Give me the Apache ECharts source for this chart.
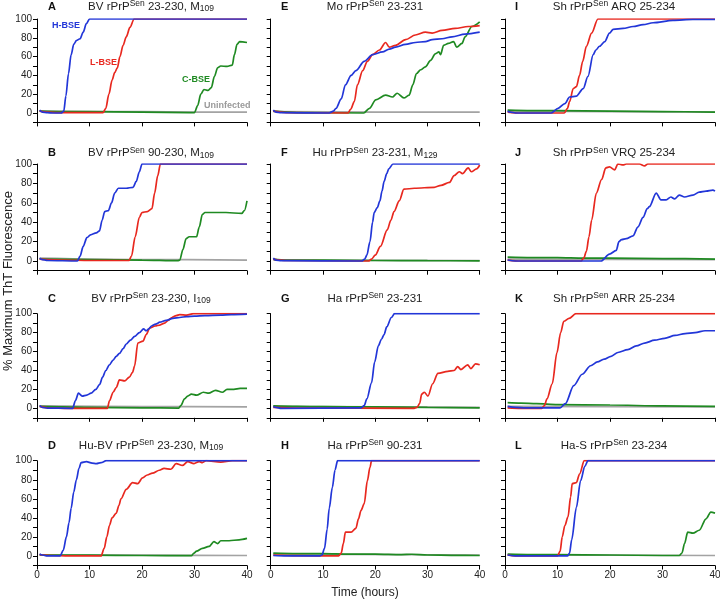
<!DOCTYPE html>
<html><head><meta charset="utf-8">
<script src="https://cdn.jsdelivr.net/npm/echarts@6/dist/echarts.min.js"></script>
<style>html,body{margin:0;padding:0;background:#fff}#c{width:720px;height:600px}</style>
</head><body><div id="c"></div>
<script>
// ---- tick values ----
const xTicks = [0, 10, 20, 30, 40];
const yTickLabels = [0, 20, 40, 60, 80, 100];
const seriesNames = ['Uninfected', 'C-BSE', 'L-BSE', 'H-BSE'];
const panelLetters = ['A','B','C','D','E','F','G','H','I','J','K','L'];
const panelTitles = [
  'BV rPrP{sup|Sen} 23-230, M{sub|109}',
  'BV rPrP{sup|Sen} 90-230, M{sub|109}',
  'BV rPrP{sup|Sen} 23-230, I{sub|109}',
  'Hu-BV rPrP{sup|Sen} 23-230, M{sub|109}',
  'Mo rPrP{sup|Sen} 23-231',
  'Hu rPrP{sup|Sen} 23-231, M{sub|129}',
  'Ha rPrP{sup|Sen} 23-231',
  'Ha rPrP{sup|Sen} 90-231',
  'Sh rPrP{sup|Sen} ARQ 25-234',
  'Sh rPrP{sup|Sen} VRQ 25-234',
  'Sh rPrP{sup|Sen} ARR 25-234',
  'Ha-S rPrP{sup|Sen} 23-234'
];

// ---- data: [hours, % max ThT] ----
const A_blue = [[0.5,3],[1,1],[2,0.3],[3,0],[4.6,0],[5.1,2],[5.5,18],[6,42],[6.5,62],[7,73],[7.5,77],[8.2,79],[8.8,86],[9.4,95],[10,100],[40,100]];
const A_red = [[0.5,2],[2,1],[4,0.5],[8,0.5],[12.6,0.5],[13.1,5],[13.7,20],[14.3,35],[14.8,43],[15.3,48],[15.8,60],[16.4,72],[17,81],[17.7,91],[18.5,100],[40,100]];
const A_green = [[0.5,2],[5,1.5],[10,1.5],[20,1],[29,0.5],[30,0.5],[30.6,8],[31.2,20],[31.8,25],[32.6,24],[33.2,27],[33.8,39],[34.4,48],[35,50],[36.2,49.5],[37.2,51],[37.6,62],[38.1,73],[38.6,76],[40,75]];
const A_gray = [[0.5,2],[10,1.5],[20,1.5],[30,1],[40,1]];

const B_blue = [[0.5,3],[1,1.5],[2,0.5],[7.7,0],[8.2,5],[8.8,15],[9.5,24],[10.2,27],[11.3,29],[11.9,31],[12.4,42],[12.9,51],[13.6,52],[14.2,60],[14.8,70],[15.5,75],[17,75],[18.3,76],[18.9,82],[19.5,92],[20,100],[40,100]];
const B_red = [[0.5,2],[5,1],[10,0.5],[17.5,0.5],[18,5],[18.7,25],[19.5,45],[20,50],[21,51],[21.9,54],[22.4,70],[23,88],[23.5,100],[40,100]];
const B_green = [[0.5,2],[10,1.5],[20,1],[26.8,0.3],[27.2,1],[27.8,12],[28.4,23],[29,25],[30.4,25],[30.9,35],[31.5,48],[32,50],[36,50],[39,49],[39.5,52],[40,62]];
const B_gray = [[0.5,3],[20,1.5],[40,1]];

const C_blue = [[0.5,3],[1,1],[2,0.3],[6.8,0],[7.3,8],[7.9,16],[8.6,13],[9.5,14],[10.3,16],[11.2,20],[11.9,25],[12.5,33],[13.1,40],[13.8,46],[14.5,51],[15.1,55],[15.7,58],[16.4,63],[17,68],[17.8,72],[18.6,76],[19.5,80],[20.3,84],[20.8,82],[21.3,84],[21.8,87],[22.6,89],[23.4,91],[24.6,93],[25.9,95],[27.2,96],[28.5,97],[30,97.5],[32,98],[35,98.5],[37,99],[40,99.5]];
const C_red = [[0.5,2],[2,0.5],[6,0],[13.4,0],[13.8,8],[14.5,17],[15.1,22],[15.7,30],[16.7,29],[17.6,33],[18.2,38],[18.6,45],[19.2,69],[20.2,71],[20.8,78],[21.5,85],[22.5,87],[23.4,88],[24.3,90],[25,93],[25.7,96],[26.5,98],[27.2,99],[28.5,98.5],[29.8,100],[40,100]];
const C_green = [[0.5,2],[5,1.5],[10,1],[20,0.5],[27,0.3],[27.4,3],[28.1,10],[28.7,13],[29.4,15],[30.4,14],[31.7,17],[32.7,16],[34,19],[35.3,17],[36.2,20],[37.5,20],[38.7,21],[40,21]];
const C_gray = [[0.5,2.5],[20,1.8],[40,1.5]];

const D_blue = [[0.5,2],[1,1],[2,0],[4.4,0],[5,6],[5.6,20],[6.1,35],[6.5,50],[7,67],[7.5,80],[8,92],[8.4,98],[9.4,99],[10.5,97.5],[11.3,97],[12.2,98],[13.2,100],[40,100]];
const D_red = [[0.5,1.5],[3,0.5],[6,0],[12.2,0],[12.8,8],[13.3,20],[13.8,32],[14.3,40],[15.1,45],[15.6,53],[16,60],[17,70],[18.2,77],[19.2,76],[20.1,82],[21,85],[22,87],[23.3,90],[24.2,92],[25.5,91],[26.5,97],[27.7,95],[28.7,99],[29.9,97],[30.9,99],[31.5,98],[32.2,100],[35,98.5],[37.2,100],[40,100]];
const D_green = [[0.5,1],[10,0.8],[20,0.5],[29.4,0.3],[29.9,3],[30.4,5],[31.5,8],[32.8,10],[33.7,15],[34.4,13],[35,16],[36.6,16],[38.5,17],[40,18.5]];
const D_gray = [[0.5,1],[20,0.8],[40,0.5]];

const E_blue = [[0.5,3],[1,1],[2,0.3],[11.2,0],[12,2],[12.5,5],[13.5,15],[14.3,30],[15.4,40],[16.3,45],[17.9,55],[19.5,62],[21.4,65],[22.7,68],[23.9,70],[25.8,73],[27.7,75],[29.6,76],[30.9,78],[32.8,79],[34.7,81],[37.2,84],[40,86]];
const E_red = [[0.5,2],[3,0.5],[14.8,0],[15.3,4],[16,12],[16.6,30],[17.6,45],[18.5,55],[19.5,62],[20.8,67],[22,75],[22.7,70],[23.9,72],[25.8,78],[27.7,83],[29.6,86],[30.9,85],[32.8,88],[35.3,90],[37.8,92],[40,93]];
const E_green = [[0.5,2],[5,0.5],[17.8,0],[18.9,5],[20.1,14],[22,19],[23.3,17],[24.2,21],[25.5,16],[26.5,19],[27.2,30],[27.9,42],[28.7,46],[29.6,49],[30.6,56],[31.5,63],[32.2,65],[32.5,62],[33.1,72],[34,74],[35,76],[35.6,70],[36.6,74],[37.2,81],[38.5,92],[40,97]];
const E_gray = [[0.5,1.5],[20,1],[40,1]];

const F_blue = [[0.5,3],[1,1],[2,0.3],[17.4,0],[18,2],[18.4,6],[19,20],[19.5,40],[19.8,50],[20.4,55],[20.9,62],[21.3,72],[21.7,82],[22.2,90],[22.6,95],[23.4,100],[40,100]];
const F_red = [[0.5,2],[3,0.5],[18.7,0],[19.3,2],[20,6],[21,15],[22.3,32],[23,42],[23.6,51],[24.6,62],[25.5,74],[27.5,75],[31.3,76],[32.6,78],[34.2,81],[35.1,88],[36.1,92],[36.7,90],[37.8,96],[38.4,92],[39.4,95],[40,99]];
const F_green = [[0.5,2],[3,1],[10,0.8],[20,0.5],[30,0.3],[40,0.2]];
const F_gray = [[0.5,1],[40,0.5]];

const G_blue = [[0.5,2],[1,1],[2,0],[17.3,0.5],[17.9,3],[18.4,10],[19.3,27],[19.9,49],[20.6,66],[21.2,73],[21.7,78],[22.2,86],[23.1,96],[23.7,100],[40,100]];
const G_red = [[0.5,1],[5,0.3],[27.3,0],[28,1],[28.5,5],[28.9,15],[29.4,17],[30.1,13],[31,26],[32,37],[33.9,39],[35.1,40],[35.8,44],[36.4,41],[37.7,46],[38.3,42],[39.2,47],[40,46]];
const G_green = [[0.5,2.5],[5,2],[10,1.8],[20,1.5],[30,1],[40,0.5]];
const G_gray = [[0.5,2],[40,1]];

const H_blue = [[0.5,0.5],[3,0],[9.3,0],[9.8,1],[10.3,8],[10.8,28],[11.2,50],[11.8,72],[12.3,90],[12.8,100],[40,100]];
const H_red = [[0.5,1],[5,0.3],[13,0],[13.5,3],[13.9,13],[14.3,25],[15.4,25],[16.3,29],[16.8,39],[17.3,48],[17.9,55],[18.5,79],[19,93],[19.3,100],[40,100]];
const H_green = [[0.5,3],[5,2.5],[10,2.5],[15,2],[20,2],[25,1.5],[27,1.8],[30,1],[35,0.7],[40,0.5]];
const H_gray = [[0.5,2],[40,1]];

const I_blue = [[0.5,2],[1,1],[2,0],[8.8,0],[10.1,5],[11.4,10],[12.3,17],[13.6,18],[14.9,26],[15.8,39],[16.8,62],[17.3,67],[18,71],[19,76],[19.9,85],[20.6,89],[22.5,90],[24.4,92],[26.3,94],[28.2,96],[32,98.5],[35.8,99.5],[40,99.5]];
const I_red = [[0.5,1],[3,0],[11.3,0],[11.9,5],[12.3,12],[13,26],[13.6,28],[14.2,40],[14.8,55],[15.5,71],[16.5,85],[17.7,100],[40,100]];
const I_green = [[0.5,3],[5,2.5],[10,2.5],[20,2],[30,1.5],[40,1]];
const I_gray = [[0.5,2],[40,1]];

const J_blue = [[0.5,1],[2,0],[18.3,0],[19.9,7],[21.2,11],[21.7,20],[22.2,22],[23.1,23],[24.4,26],[25.3,35],[26.3,45],[27.1,54],[27.5,56],[28.8,70],[29.7,63],[30.7,63],[31.6,66],[32.3,64],[33.2,68],[34.2,66],[35.8,68],[37,71],[38.3,72],[39.6,73],[40,72]];
const J_red = [[0.5,1],[3,0],[14.5,0],[15,3],[15.5,10],[16,25],[16.5,42],[17.4,70],[18.4,84],[19.2,96],[19.9,97],[20.9,94],[21.5,100],[22.5,99],[23.1,100],[25.6,100],[26.6,98],[27.2,100],[40,100]];
const J_green = [[0.5,4],[5,3.5],[10,3.5],[15,3],[20,3],[30,2.5],[40,2]];
const J_gray = [[0.5,2],[40,1.5]];

const K_blue = [[0.5,2],[2,1],[4,0.5],[10.5,0.5],[11.5,5],[13.1,24],[14.7,36],[16.3,45],[17.6,49],[18.9,52],[20.2,55],[21.5,59],[23.4,62],[25,66],[26.6,69],[28.5,72],[30.4,74],[32.4,77],[34.3,79],[36.2,80],[38.1,82],[40,82]];
const K_red = [[0.5,0.5],[3,0],[7,0],[7.5,3],[8,10],[9,26],[9.9,59],[10.6,80],[11.2,92],[12.2,95],[13.5,100],[40,100]];
const K_green = [[0.5,6],[3,5.5],[6,5],[10,4],[20,3.5],[30,2.5],[40,2]];
const K_gray = [[0.5,2],[40,1.5]];

const L_blue = [[0.5,1],[2,0],[11.9,0],[12.3,3],[12.7,17],[13.6,51],[14.4,79],[15.2,94],[15.8,100],[40,100]];
const L_red = [[0.5,1],[2,0],[10,0],[10.5,5],[10.9,20],[11.4,32],[12,41],[12.5,62],[12.8,76],[13.6,77],[14.2,86],[15.1,100],[40,100]];
const L_green = [[0.5,2],[5,1.5],[10,1.5],[20,1],[30,0.5],[33.2,0.5],[33.7,3],[34.2,13],[34.8,25],[35.8,24],[37,27],[38.3,39],[39.2,46],[40,45]];
const L_gray = [[0.5,1],[40,0.5]];

const panelData = [
  [A_gray, A_green, A_red, A_blue],
  [B_gray, B_green, B_red, B_blue],
  [C_gray, C_green, C_red, C_blue],
  [D_gray, D_green, D_red, D_blue],
  [E_gray, E_green, E_red, E_blue],
  [F_gray, F_green, F_red, F_blue],
  [G_gray, G_green, G_red, G_blue],
  [H_gray, H_green, H_red, H_blue],
  [I_gray, I_green, I_red, I_blue],
  [J_gray, J_green, J_red, J_blue],
  [K_gray, K_green, K_red, K_blue],
  [L_gray, L_green, L_red, L_blue]
];

// ---- layout & style ----
const FONT = '"Liberation Sans", Arial, sans-serif';
const colors = ['#a3a3a3', '#1f8a22', '#e8281f', '#2236d8'];
const colLeft = [37, 270.7, 505];
const colWidth = [210, 209, 210];
const rowTop = [19, 164, 313.7, 460.7];
const rowHeight = [103.4, 106.7, 104.1, 104.8];
const titleCenterX = [151, 375, 614];
const letterX = [48, 281, 515];
const titleY = [6.5, 153, 298.5, 445.5];

const grids = [], xAxes = [], yAxes = [], series = [], titles = [];
for (let p = 0; p < 12; p++) {
  const col = Math.floor(p / 4), row = p % 4;
  grids.push({left: colLeft[col], top: rowTop[row], width: colWidth[col], height: rowHeight[row], containLabel: false, outerBoundsMode: 'none'});
  xAxes.push({
    type: 'value', gridIndex: p, min: 0, max: 40, interval: 10,
    axisLine: {show: true, onZero: false, lineStyle: {color: '#000', width: 1}},
    axisTick: {show: true, length: 4, inside: false, lineStyle: {color: '#000'}},
    axisLabel: {show: row === 3, fontSize: 10, color: '#222', fontFamily: FONT, margin: 5},
    splitLine: {show: false}
  });
  yAxes.push({
    type: 'value', gridIndex: p, min: -10, max: 100, interval: 10,
    axisLine: {show: true, onZero: false, lineStyle: {color: '#000', width: 1}},
    axisTick: {show: true, length: 4, inside: false, lineStyle: {color: '#000'}},
    axisLabel: {show: col === 0, fontSize: 10, color: '#222', fontFamily: FONT, margin: 5,
      formatter: v => (yTickLabels.indexOf(v) >= 0 ? String(v) : '')},
    splitLine: {show: false}
  });
  panelData[p].forEach((d, s) => {
    series.push({
      type: 'line', name: seriesNames[s], xAxisIndex: p, yAxisIndex: p, data: d,
      showSymbol: false, symbol: 'none', smooth: 0.3, smoothMonotone: 'x',
      lineStyle: {color: colors[s], width: 1.7}, itemStyle: {color: colors[s]},
      silent: true, animation: false, z: 2 + s
    });
  });
  titles.push({
    text: panelLetters[p], left: letterX[col], top: titleY[row], textAlign: 'left', textVerticalAlign: 'middle', padding: 0,
    textStyle: {fontSize: 11, fontWeight: 'bold', color: '#111', fontFamily: FONT}
  });
  titles.push({
    text: panelTitles[p], left: titleCenterX[col], top: titleY[row], textAlign: 'center', textVerticalAlign: 'middle', padding: 0,
    textStyle: {fontSize: 11.5, fontWeight: 'normal', color: '#222', fontFamily: FONT, lineHeight: 14,
      rich: {
        sup: {fontSize: 8.5, lineHeight: 8, verticalAlign: 'top', color: '#222', fontFamily: FONT},
        sub: {fontSize: 8.5, lineHeight: 8, verticalAlign: 'bottom', color: '#222', fontFamily: FONT}
      }}
  });
}
// in-panel labels of panel A
const annot = [
  {t: 'H-BSE', x: 52, y: 26, c: colors[3]},
  {t: 'L-BSE', x: 90, y: 62.5, c: colors[2]},
  {t: 'C-BSE', x: 182, y: 79.5, c: colors[1]},
  {t: 'Uninfected', x: 204, y: 105.5, c: '#9a9a9a'}
];
annot.forEach(a => titles.push({
  text: a.t, left: a.x, top: a.y, textAlign: 'left', textVerticalAlign: 'middle', padding: 0,
  textStyle: {fontSize: 9, fontWeight: 'bold', color: a.c, fontFamily: FONT}
}));
titles.push({
  text: 'Time (hours)', left: 365, top: 593, textAlign: 'center', textVerticalAlign: 'middle', padding: 0,
  textStyle: {fontSize: 12, fontWeight: 'normal', color: '#222', fontFamily: FONT}
});

const chart = echarts.init(document.getElementById('c'), null, {renderer: 'canvas', width: 720, height: 600});
chart.setOption({
  backgroundColor: '#fff',
  animation: false,
  title: titles,
  grid: grids,
  xAxis: xAxes,
  yAxis: yAxes,
  series: series,
  graphic: [{
    type: 'text', x: 8, y: 281, rotation: Math.PI / 2, silent: true,
    style: {text: '% Maximum ThT Fluorescence', font: '13px ' + FONT, fill: '#222',
      align: 'center', verticalAlign: 'middle', textAlign: 'center', textVerticalAlign: 'middle'}
  }]
});
</script></body></html>
